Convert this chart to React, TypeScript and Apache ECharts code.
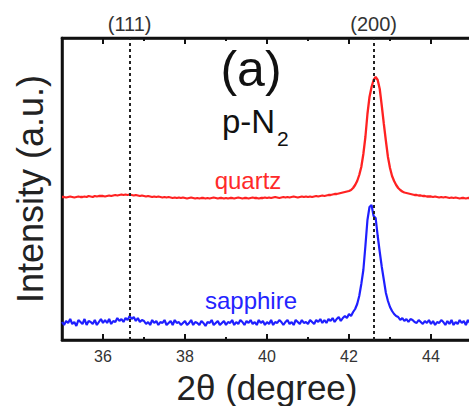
import React, { useEffect, useRef } from "react";
import * as echarts from "echarts";

// 2θ sampling of both scans (degrees)
const SCAN_START = 35;
const SCAN_STEP = 0.05;

// Intensity (a.u.) of the quartz-grown film, one value per 0.05°, 35°..45°
const quartzIntensity = [
  143, 143, 142.5, 143, 143.5, 143, 142.5, 143, 143.5, 143, 143, 143.5, 143, 144, 143.5, 143, 144, 143.5, 144, 144,
  144, 143.5, 144, 144.5, 144, 144.5, 145, 144.5, 145, 145.5, 145, 145.5, 145, 145.5, 145, 144.5, 145, 144.5, 144, 144.5,
  144, 143.5, 144, 143.5, 143, 143.5, 143, 143.5, 143, 142.5, 143, 142.5, 143, 142.5, 142, 142.5, 142, 142.5, 142, 142.5,
  142, 141.5, 142, 142.5, 142, 141.5, 142, 141.5, 142, 142, 141.5, 142, 141.5, 142, 142.5, 142, 141.5, 142, 142, 141.5,
  142, 141.5, 142, 142, 141.5, 142, 142.5, 142, 141.5, 142, 142, 141.5, 142, 142.5, 142, 142, 141.5, 142, 142, 142.5,
  142, 142.5, 142, 142.5, 143, 142.5, 142, 142.5, 143, 142.5, 143, 142.5, 143, 143.5, 143, 142.5, 143, 143.5, 143, 143.5,
  143, 143.5, 143, 143.5, 144, 143.5, 144, 144.5, 144, 144.5, 145, 145, 145.5, 146, 146, 146.5, 147, 147.5, 148, 148.5,
  149, 150, 152, 155, 159, 165, 173, 186, 203, 226, 243, 253, 260, 263, 260, 251, 234, 216, 199, 183,
  172, 164, 159, 155, 152, 150, 148.5, 147.5, 147, 146.5, 146, 145.5, 145, 145, 144.5, 144.5, 144, 144, 143.5, 143.5,
  143.5, 143, 143.5, 143, 142.5, 143, 142.5, 143, 142.5, 142, 142.5, 142, 142.5, 142, 141.5, 142, 142, 141.5, 142, 142,
  142,
];

// Intensity (a.u.) of the sapphire-grown film, one value per 0.05°, 35°..45°
const sapphireIntensity = [
  18, 15, 19, 17, 21, 16, 18, 14, 20, 18, 16, 21, 15, 19, 18, 16, 20, 15, 18, 21,
  17, 20, 17, 21, 16, 19, 18, 22, 19, 21, 18, 22, 20, 24, 21, 23, 19, 22, 18, 20,
  19, 16, 18, 15, 20, 17, 19, 15, 18, 17, 20, 15, 17, 19, 15, 20, 17, 18, 15, 17,
  19, 15, 17, 20, 15, 18, 17, 15, 19, 17, 14, 18, 17, 20, 15, 17, 19, 15, 17, 19,
  15, 18, 17, 20, 15, 18, 16, 20, 18, 15, 19, 17, 20, 16, 18, 15, 20, 17, 19, 15,
  18, 16, 20, 15, 18, 17, 20, 18, 15, 18, 20, 16, 18, 15, 20, 18, 16, 20, 17, 18,
  16, 20, 18, 16, 20, 18, 21, 17, 20, 17, 21, 19, 22, 18, 21, 23, 19, 22, 24, 22,
  26, 24, 28, 31, 36, 44, 56, 70, 94, 120, 133, 135, 124, 122, 104, 88, 73, 60, 47, 39,
  33, 29, 26, 24, 23, 20, 22, 19, 21, 18, 21, 20, 18, 17, 20, 18, 16, 19, 17, 20,
  16, 19, 15, 18, 17, 20, 18, 15, 19, 16, 20, 15, 18, 16, 20, 17, 19, 15, 20, 17,
  18,
];

// Bragg reflections of p-N2 marked by dotted lines
const planeLabels = ["(111)", "(200)"];
const planePositions = [36.65, 42.6];

const majorTicks = [36, 38, 40, 42, 44];
const minorTicks = [37, 39, 41, 43];

const FONT = "Liberation Sans";

const toPairs = (vals: number[]) =>
  vals.map((v, i) => [+(SCAN_START + i * SCAN_STEP).toFixed(2), v]);

const xAxisDef = (
  position: "top" | "bottom",
  ticks: number[],
  len: number,
  showLabel: boolean,
  showLine: boolean
) => ({
  type: "value",
  position,
  min: 35,
  max: 45,
  axisLine: { show: showLine, lineStyle: { color: "#111", width: 2.5 } },
  axisTick: {
    show: true,
    inside: true,
    length: len,
    customValues: ticks,
    lineStyle: { color: "#111", width: 2 },
  },
  axisLabel: showLabel
    ? {
        show: true,
        customValues: ticks,
        margin: 8,
        fontSize: 16,
        color: "#333",
        fontFamily: FONT,
      }
    : { show: false },
  splitLine: { show: false },
});

export default function App() {
  const ref = useRef<HTMLDivElement>(null);

  useEffect(() => {
    if (!ref.current) return;
    const chart = echarts.init(ref.current, undefined, { renderer: "svg" });
    chart.setOption({
      animation: false,
      grid: {
        left: 62,
        top: 38,
        width: 410,
        height: 302,
        outerBoundsMode: "none",
        show: true,
        borderColor: "#111",
        borderWidth: 2.5,
        backgroundColor: "transparent",
      },
      xAxis: [
        {
          ...xAxisDef("bottom", majorTicks, 6, true, true),
          name: "2θ (degree)",
          nameLocation: "middle",
          nameGap: 30,
          nameTextStyle: { fontSize: 35, color: "#222", fontFamily: FONT },
        },
        xAxisDef("bottom", minorTicks, 3, false, false),
        xAxisDef("top", majorTicks, 6, false, true),
        xAxisDef("top", minorTicks, 3, false, false),
      ],
      yAxis: {
        type: "value",
        min: 0,
        max: 302,
        axisLine: { show: true, lineStyle: { color: "#111", width: 2.5 } },
        axisTick: { show: false },
        axisLabel: { show: false },
        splitLine: { show: false },
        name: "Intensity (a.u.)",
        nameLocation: "middle",
        nameGap: 14,
        nameTextStyle: { fontSize: 36, color: "#222", fontFamily: FONT },
      },
      series: [
        {
          type: "line",
          name: "quartz",
          data: toPairs(quartzIntensity),
          showSymbol: false,
          lineStyle: { color: "#ff2222", width: 2.3 },
          markLine: {
            silent: true,
            symbol: ["none", "none"],
            lineStyle: { color: "#222", width: 2, type: [3, 3] },
            label: {
              show: true,
              position: "end",
              distance: 4,
              fontSize: 20,
              color: "#333",
              fontFamily: FONT,
            },
            data: planePositions.map((p, i) => ({
              xAxis: p,
              label: { formatter: planeLabels[i] },
            })),
          },
        },
        {
          type: "line",
          name: "sapphire",
          data: toPairs(sapphireIntensity),
          showSymbol: false,
          lineStyle: { color: "#1f1fff", width: 2.2 },
        },
      ],
      graphic: [
        {
          type: "text",
          x: 251,
          y: 69,
          style: { text: "(a)", fill: "#111", fontSize: 50, fontFamily: FONT, align: "center", verticalAlign: "middle" },
        },
        {
          type: "text",
          x: 222,
          y: 121,
          style: { text: "p-N", fill: "#111", fontSize: 33, fontFamily: FONT, align: "left", verticalAlign: "middle" },
        },
        {
          type: "text",
          x: 277,
          y: 138,
          style: { text: "2", fill: "#111", fontSize: 21, fontFamily: FONT, align: "left", verticalAlign: "middle" },
        },
        {
          type: "text",
          x: 248,
          y: 180,
          style: { text: "quartz", fill: "#ff2a2a", fontSize: 24, fontFamily: FONT, align: "center", verticalAlign: "middle" },
        },
        {
          type: "text",
          x: 251,
          y: 300,
          style: { text: "sapphire", fill: "#2424ff", fontSize: 24, fontFamily: FONT, align: "center", verticalAlign: "middle" },
        },
      ],
    });
    return () => chart.dispose();
  }, []);

  return (
    <div
      ref={ref}
      style={{ position: "fixed", left: 0, top: 0, width: 469, height: 406, background: "#fff" }}
    />
  );
}
